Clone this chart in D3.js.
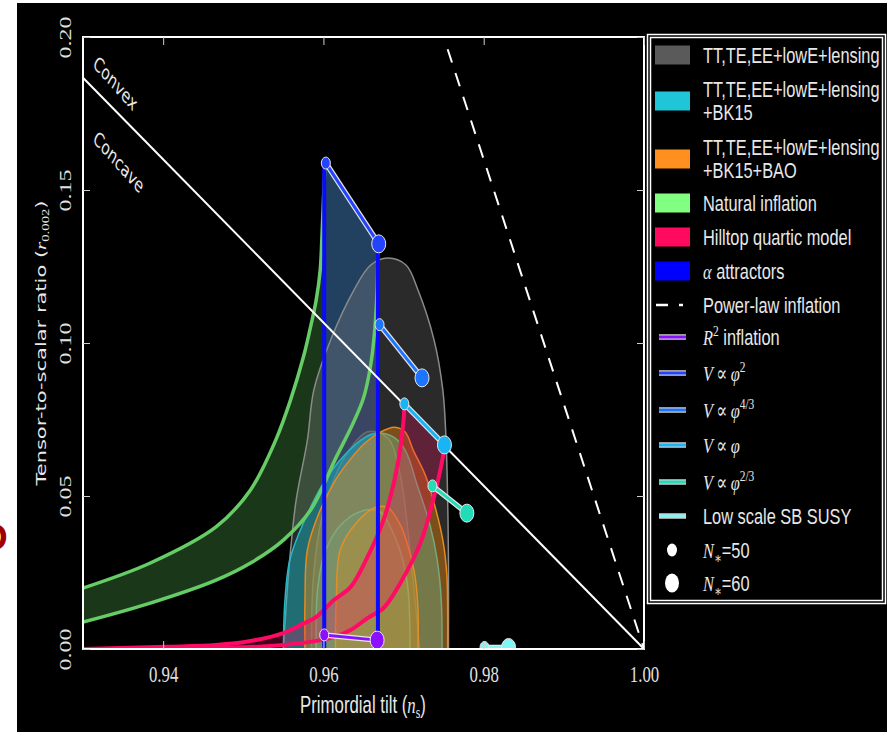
<!DOCTYPE html>
<meta charset="utf-8">
<style>
body { margin: 0; background: #fff; }
</style>
<svg width="887" height="732"></svg>
<script src="https://cdn.jsdelivr.net/npm/d3@7"></script>
<script>

// ---- data (ns, r) ----
var naturalN50Ns = [0.9300, 0.9384, 0.9466, 0.9509, 0.9541, 0.9559, 0.9575, 0.9583, 0.9591, 0.9596, 0.9598, 0.9600, 0.9602];
var naturalN50R  = [0.0199, 0.0281, 0.0399, 0.0520, 0.0686, 0.0814, 0.0954, 0.1042, 0.1141, 0.1239, 0.1337, 0.1467, 0.1588];
var naturalN60Ns = [0.9300, 0.9384, 0.9466, 0.9509, 0.9550, 0.9584, 0.9616, 0.9636, 0.9650, 0.9659, 0.9664, 0.9667, 0.9668, 0.9669];
var naturalN60R  = [0.0088, 0.0150, 0.0225, 0.0281, 0.0356, 0.0454, 0.0627, 0.0732, 0.0820, 0.0928, 0.1042, 0.1173, 0.1271, 0.1324];

var hilltopN50Ns = [0.9300, 0.9404, 0.9466, 0.9509, 0.9550, 0.9571, 0.9591, 0.9613, 0.9634, 0.9655, 0.9675, 0.9692, 0.9700, 0.9701];
var hilltopN50R  = [0.0000, 0.0007, 0.0013, 0.0026, 0.0052, 0.0078, 0.0105, 0.0160, 0.0203, 0.0301, 0.0422, 0.0595, 0.0748, 0.0801];
var hilltopN60Ns = [0.9300, 0.9466, 0.9550, 0.9613, 0.9634, 0.9655, 0.9675, 0.9696, 0.9721, 0.9737, 0.9749, 0.9751];
var hilltopN60R  = [0.0000, 0.0003, 0.0013, 0.0039, 0.0062, 0.0101, 0.0134, 0.0216, 0.0346, 0.0487, 0.0627, 0.0667];

var alphaNs   = [0.9601, 0.9668];
var alphaTopR = [0.1588, 0.1324];

var grayOuterNs = [0.9550, 0.9554, 0.9559, 0.9566, 0.9580, 0.9588, 0.9609, 0.9638, 0.9659, 0.9680, 0.9703, 0.9718, 0.9738, 0.9749, 0.9753, 0.9755, 0.9756, 0.9756];
var grayOuterR  = [0.0000, 0.0160, 0.0324, 0.0487, 0.0683, 0.0846, 0.1010, 0.1173, 0.1255, 0.1278, 0.1255, 0.1173, 0.1010, 0.0846, 0.0683, 0.0487, 0.0291, 0.0000];
var grayInnerNs = [0.9585, 0.9588, 0.9600, 0.9625, 0.9655, 0.9680, 0.9695, 0.9710, 0.9720];
var grayInnerR  = [0.0000, 0.0250, 0.0450, 0.0620, 0.0710, 0.0690, 0.0580, 0.0270, 0.0000];

var bk15OuterNs = [0.9550, 0.9552, 0.9558, 0.9575, 0.9600, 0.9624, 0.9653, 0.9668, 0.9687, 0.9702, 0.9717, 0.9733, 0.9742, 0.9747, 0.9748];
var bk15OuterR  = [0.0000, 0.0160, 0.0291, 0.0412, 0.0542, 0.0627, 0.0693, 0.0706, 0.0693, 0.0650, 0.0536, 0.0405, 0.0291, 0.0160, 0.0000];
var bk15InnerNs = [0.9591, 0.9593, 0.9603, 0.9624, 0.9653, 0.9671, 0.9687, 0.9699, 0.9706, 0.9708];
var bk15InnerR  = [0.0000, 0.0203, 0.0324, 0.0412, 0.0454, 0.0448, 0.0379, 0.0291, 0.0183, 0.0000];

var baoOuterNs = [0.9577, 0.9577, 0.9580, 0.9596, 0.9615, 0.9633, 0.9652, 0.9671, 0.9689, 0.9702, 0.9712, 0.9727, 0.9737, 0.9749, 0.9754, 0.9755, 0.9755];
var baoOuterR  = [0.0000, 0.0160, 0.0324, 0.0454, 0.0552, 0.0618, 0.0673, 0.0709, 0.0725, 0.0709, 0.0650, 0.0569, 0.0487, 0.0356, 0.0242, 0.0127, 0.0000];
var baoInnerNs = [0.9615, 0.9616, 0.9621, 0.9641, 0.9666, 0.9681, 0.9696, 0.9704, 0.9714, 0.9718, 0.9718];
var baoInnerR  = [0.0000, 0.0160, 0.0324, 0.0412, 0.0464, 0.0461, 0.0405, 0.0350, 0.0242, 0.0127, 0.0000];

var boundaryNs = [0.93, 1.00];     // convex / concave divide
var boundaryR  = [0.1867, 0.0];
var powerLawNs = [0.9755, 1.00];
var powerLawR  = [0.196, 0.0];

var modelColors = ["#8b10ff", "#2443ff", "#1c74ff", "#19b4f5", "#22dcb8", "#80f6f6"];
var modelNs50 = [0.9601, 0.9603, 0.9670, 0.9701, 0.9736, 0.9801];
var modelR50  = [0.0046, 0.1588, 0.1060, 0.0801, 0.0533, 0.0005];
var modelNs60 = [0.9667, 0.9669, 0.9723, 0.9751, 0.9779, 0.9831];
var modelR60  = [0.0029, 0.1324, 0.0886, 0.0667, 0.0444, 0.0005];

var xTicks = [0.94, 0.96, 0.98, 1.00];
var yTicks = [0.00, 0.05, 0.10, 0.15, 0.20];

var legendLabels = [
  "TT,TE,EE+lowE+lensing",
  "TT,TE,EE+lowE+lensing|+BK15",
  "TT,TE,EE+lowE+lensing|+BK15+BAO",
  "Natural inflation",
  "Hilltop quartic model",
  "$\\alpha$ attractors",
  "Power-law inflation",
  "$R^2$ inflation",
  "$V \\propto \\phi^2$",
  "$V \\propto \\phi^{4/3}$",
  "$V \\propto \\phi$",
  "$V \\propto \\phi^{2/3}$",
  "Low scale SB SUSY",
  "$N_*$=50",
  "$N_*$=60"];
var legendKinds = ["patch", "patch", "patch", "patch", "patch", "patch", "dash",
                   "line", "line", "line", "line", "line", "line", "small", "large"];
var legendColors = ["#5a5a5a", "#1fc6d8", "#ff8f1f", "#80ff80", "#ff0a5e", "#0000ff", "#ffffff"]
    .concat(modelColors, ["#ffffff", "#ffffff"]);

// ---- setup ----
var SX = 0.7,
    SANS = '"Liberation Sans", Arial, sans-serif',
    SERIF = '"Liberation Serif", "DejaVu Serif", serif',
    DEJA = '"DejaVu Sans", sans-serif';

var svg = d3.select("svg");
var x = d3.scaleLinear().domain([0.93, 1.00]).range([83, 644]);
var y = d3.scaleLinear().domain([0, 0.20]).range([649, 37]);

function pts(a, b) { return a.map(function(v, i) { return [v, b[i]]; }); }

var curve = d3.line()
    .x(function(d) { return x(d[0]); })
    .y(function(d) { return y(d[1]); })
    .curve(d3.curveCatmullRom.alpha(0.5));
var straight = d3.line()
    .x(function(d) { return x(d[0]); })
    .y(function(d) { return y(d[1]); });

function band(a, b) {
  return curve(a) + "L" + curve(b.slice().reverse()).slice(1) + "Z";
}

// small TeX-ish label renderer: $...$ is math
function richText(sel, str, size) {
  var shift = 0;
  function emit(t, o) {
    var ts = sel.append("tspan").text(t);
    var target = o.script === "sup" ? -size * 0.4 : o.script === "sub" ? size * 0.22 : 0;
    if (target !== shift) { ts.attr("dy", target - shift); shift = target; }
    ts.attr("font-size", o.script ? size * 0.7 : size);
    if (o.math) ts.attr("font-family", SERIF);
    if (o.italic) ts.attr("font-style", "italic");
  }
  str.split("$").forEach(function(part, k) {
    if (!part) return;
    if (k % 2 === 0) { emit(part, {}); return; }
    var i = 0;
    while (i < part.length) {
      var c = part[i];
      if (c === " ") { i++; continue; }
      if (c === "^" || c === "_") {
        var body; i++;
        if (part[i] === "{") { var j = part.indexOf("}", i); body = part.slice(i + 1, j); i = j + 1; }
        else { body = part[i]; i++; }
        emit(body.replace("*", "\u2217"), {math: true, script: c === "^" ? "sup" : "sub"});
        continue;
      }
      if (c === "\\") {
        var m = part.slice(i + 1).match(/^[a-z]+/)[0];
        i += m.length + 1;
        var g = {alpha: "\u03b1", phi: "\u03c6", propto: "\u2009\u221d\u2009"}[m];
        emit(g, {math: true, italic: m !== "propto"});
        continue;
      }
      emit(c, {math: true, italic: /[A-Za-z]/.test(c)});
      i++;
    }
  });
}

function addText(parent, px, py, str, o) {
  var t = parent.append("text")
      .attr("transform", "translate(" + px + "," + py + ") scale(" + (o.sx || SX) + ",1)" + (o.rotate ? " rotate(" + o.rotate + ")" : ""))
      .attr("font-family", o.family || SANS)
      .attr("font-size", o.size)
      .attr("text-anchor", o.anchor || "start")
      .attr("fill", o.fill || "#e8e8e8");
  richText(t, str, o.size);
  return t;
}

// slide leftovers
svg.append("text").attr("x", -19).attr("y", 550)
    .attr("font-family", SANS).attr("font-weight", "bold").attr("font-size", 37)
    .attr("fill", "#a00000").text("D");
svg.append("rect").attr("x", 17).attr("y", 3).attr("width", 870).attr("height", 729).attr("fill", "#000");

svg.append("clipPath").attr("id", "plotclip")
  .append("rect").attr("x", x(0.93)).attr("y", y(0.2)).attr("width", x(1) - x(0.93)).attr("height", y(0) - y(0.2));

var plot = svg.append("g").attr("clip-path", "url(#plotclip)");

var natA = pts(naturalN50Ns, naturalN50R), natB = pts(naturalN60Ns, naturalN60R);
var hilA = pts(hilltopN50Ns, hilltopN50R), hilB = pts(hilltopN60Ns, hilltopN60R);

// fills
plot.append("path").attr("d", band(natA, natB)).attr("fill", "#3a7a3a").attr("fill-opacity", 0.45);
plot.append("path")
    .attr("d", straight([[alphaNs[0], 0], [alphaNs[0], alphaTopR[0]], [alphaNs[1], alphaTopR[1]], [alphaNs[1], 0]]) + "Z")
    .attr("fill", "#2a4a9a").attr("fill-opacity", 0.55);

// data contours
var contours = [
  {ns: grayOuterNs, r: grayOuterR, fill: "#808080", op: 0.33, stroke: "#8a8a8a"},
  {ns: grayInnerNs, r: grayInnerR, fill: "#808080", op: 0.25, stroke: "#6a6a6a"},
  {ns: bk15OuterNs, r: bk15OuterR, fill: "#17becf", op: 0.45, stroke: "#25b8c8"},
  {ns: bk15InnerNs, r: bk15InnerR, fill: "#17becf", op: 0.3, stroke: "#30c0c8"},
  {ns: baoOuterNs, r: baoOuterR, fill: "#ff8c00", op: 0.38, stroke: "#e88a1c"},
  {ns: baoInnerNs, r: baoInnerR, fill: "#ff8c00", op: 0.25, stroke: "#e0902a"}
];
contours.forEach(function(c) {
  var p = pts(c.ns, c.r);
  plot.append("path").attr("d", curve(p) + "Z").attr("fill", c.fill).attr("fill-opacity", c.op);
  plot.append("path").attr("d", curve(p)).attr("fill", "none").attr("stroke", c.stroke).attr("stroke-width", 1.5);
});

plot.append("path").attr("d", band(hilA, hilB)).attr("fill", "#ff0a64").attr("fill-opacity", 0.25);

// model curves
[natA, natB].forEach(function(p) {
  plot.append("path").attr("d", curve(p)).attr("fill", "none").attr("stroke", "#66cc66").attr("stroke-width", 3.5);
});
[hilA, hilB].forEach(function(p) {
  plot.append("path").attr("d", curve(p)).attr("fill", "none").attr("stroke", "#ff0a64").attr("stroke-width", 4);
});
alphaNs.forEach(function(v, i) {
  plot.append("path").attr("d", straight([[v, 0], [v, alphaTopR[i]]]))
      .attr("stroke", "#0a0aff").attr("stroke-width", 4);
});

plot.append("path").attr("d", straight(pts(boundaryNs, boundaryR)))
    .attr("stroke", "#fff").attr("stroke-width", 2);
plot.append("path").attr("d", straight(pts(powerLawNs, powerLawR)))
    .attr("stroke", "#fff").attr("stroke-width", 2).attr("stroke-dasharray", "14,11");

// N=50 / N=60 predictions
modelColors.forEach(function(col, i) {
  var seg = straight([[modelNs50[i], modelR50[i]], [modelNs60[i], modelR60[i]]]);
  plot.append("path").attr("d", seg).attr("stroke", "#e6e6e6").attr("stroke-width", 5.5);
  plot.append("path").attr("d", seg).attr("stroke", col).attr("stroke-width", 3);
  plot.append("ellipse").attr("cx", x(modelNs50[i])).attr("cy", y(modelR50[i]))
      .attr("rx", 4.5).attr("ry", 6).attr("fill", col).attr("stroke", "#e6e6e6").attr("stroke-width", 1);
  plot.append("ellipse").attr("cx", x(modelNs60[i])).attr("cy", y(modelR60[i]))
      .attr("rx", 7).attr("ry", 9).attr("fill", col).attr("stroke", "#e6e6e6").attr("stroke-width", 1);
});

// frame and axes
svg.append("rect").attr("x", x(0.93)).attr("y", y(0.2)).attr("width", x(1) - x(0.93)).attr("height", y(0) - y(0.2))
    .attr("fill", "none").attr("stroke", "#fff").attr("stroke-width", 2);

function styleAxis(g) {
  g.attr("font-size", null).attr("font-family", null);
  g.select(".domain").remove();
  g.selectAll(".tick line").attr("stroke", "#cfcfcf").attr("stroke-width", 1);
}

var gx = svg.append("g").attr("transform", "translate(0," + y(0) + ")")
    .call(d3.axisBottom(x).tickValues(xTicks).tickSizeInner(-8).tickSizeOuter(0).tickFormat(d3.format(".2f")))
    .call(styleAxis);
gx.selectAll(".tick text")
    .attr("y", null).attr("dy", null)
    .attr("transform", "translate(0,33) scale(" + SX + ",1)")
    .attr("font-family", SERIF).attr("font-size", 24).attr("fill", "#e0e0e0");

svg.append("g").attr("transform", "translate(0," + y(0.2) + ")")
    .call(d3.axisTop(x).tickValues(xTicks).tickSizeInner(-8).tickSizeOuter(0).tickFormat(""))
    .call(styleAxis);

var gy = svg.append("g").attr("transform", "translate(" + x(0.93) + ",0)")
    .call(d3.axisLeft(y).tickValues(yTicks).tickSizeInner(-7).tickSizeOuter(0).tickFormat(d3.format(".2f")))
    .call(styleAxis);
gy.selectAll(".tick text")
    .attr("x", null).attr("dy", null)
    .attr("text-anchor", "middle")
    .attr("transform", "translate(-12,0) scale(" + SX + ",1) rotate(-90)")
    .attr("font-family", SERIF).attr("font-size", 24).attr("fill", "#e0e0e0");

svg.append("g").attr("transform", "translate(" + x(1) + ",0)")
    .call(d3.axisRight(y).tickValues(yTicks).tickSizeInner(-7).tickSizeOuter(0).tickFormat(""))
    .call(styleAxis);

// titles and annotations
addText(svg, 363, 713, "Primordial tilt ($n_s$)", {size: 24, anchor: "middle"});
addText(svg, 46, 343, "Tensor-to-scalar ratio ($r_{0.002}$)", {size: 21, anchor: "middle", rotate: -90, family: DEJA});
addText(svg, 92, 66, "Convex", {size: 20, rotate: 38, family: DEJA});
addText(svg, 92, 141, "Concave", {size: 20, rotate: 38, family: DEJA});

// legend
var legendRowY = [55, 101, 159, 203, 237, 271, 305, 337, 373, 410, 445, 482, 516, 550, 583];
var lg = svg.append("g");
lg.append("rect").attr("x", 647.5).attr("y", 34.5).attr("width", 238).attr("height", 569)
    .attr("fill", "#000").attr("stroke", "#fff").attr("stroke-width", 1.5);
lg.append("rect").attr("x", 650.5).attr("y", 37.5).attr("width", 232).attr("height", 563)
    .attr("fill", "none").attr("stroke", "#fff").attr("stroke-width", 1.5);

legendLabels.forEach(function(lab, i) {
  var cy = legendRowY[i], kind = legendKinds[i], col = legendColors[i];
  if (kind === "patch") {
    lg.append("rect").attr("x", 655).attr("y", cy - 9.5).attr("width", 35).attr("height", 19).attr("fill", col);
  } else if (kind === "dash") {
    lg.append("line").attr("x1", 656).attr("x2", 668).attr("y1", cy).attr("y2", cy).attr("stroke", col).attr("stroke-width", 2.5);
    lg.append("line").attr("x1", 679).attr("x2", 683).attr("y1", cy).attr("y2", cy).attr("stroke", col).attr("stroke-width", 2.5);
  } else if (kind === "line") {
    lg.append("line").attr("x1", 659).attr("x2", 686).attr("y1", cy).attr("y2", cy).attr("stroke", "#d0d0d0").attr("stroke-width", 5.5);
    lg.append("line").attr("x1", 659).attr("x2", 686).attr("y1", cy).attr("y2", cy).attr("stroke", col).attr("stroke-width", 3);
  } else {
    var big = kind === "large";
    lg.append("ellipse").attr("cx", 672).attr("cy", cy).attr("rx", big ? 7 : 5).attr("ry", big ? 9.5 : 6.5).attr("fill", col);
  }
  var lines = lab.split("|");
  lines.forEach(function(t, k) {
    var cyl = lines.length > 1 ? cy - 12 + 23 * k : cy;
    addText(lg, 703, cyl + 8, t, {size: 22, sx: 0.745});
  });
});

</script>
